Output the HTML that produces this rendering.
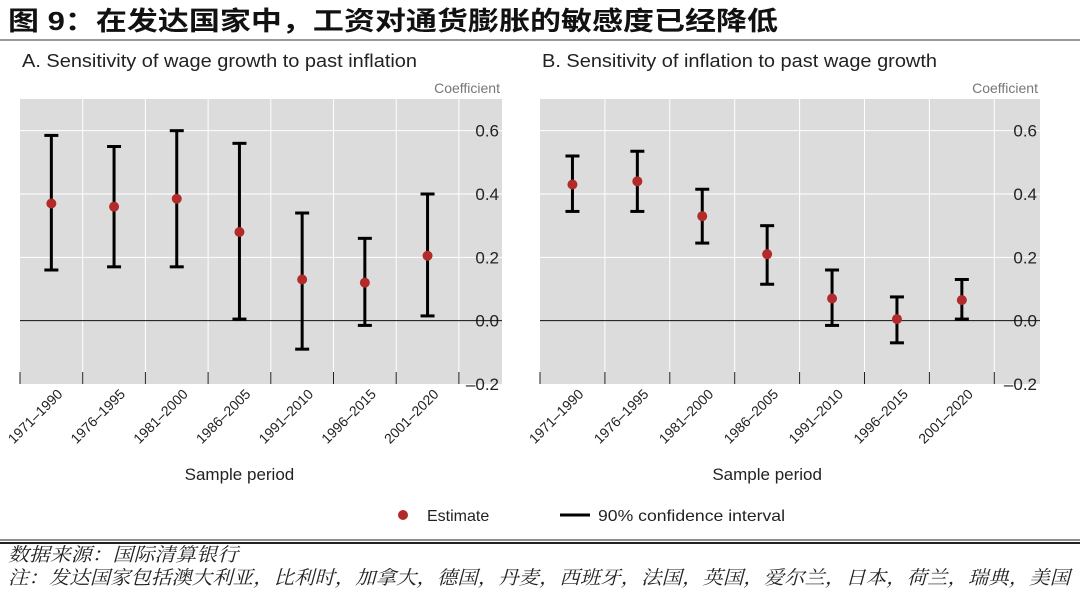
<!DOCTYPE html>
<html><head><meta charset="utf-8"><style>
body{margin:0;width:1080px;height:589px;background:#fff;overflow:hidden;font-family:"Liberation Sans","Noto Sans CJK SC",sans-serif;}
</style></head><body>
<svg width="1080" height="589" xmlns="http://www.w3.org/2000/svg">
<text x="8" y="30" font-size="26" font-weight="bold" fill="#111" textLength="770" lengthAdjust="spacingAndGlyphs" font-family="Liberation Sans, Noto Sans CJK SC, sans-serif">图 9：在发达国家中，工资对通货膨胀的敏感度已经降低</text>
<line x1="0" y1="40" x2="1080" y2="40" stroke="#333" stroke-width="1"/>
<g id="panels"></g>
<g>
<circle cx="403" cy="515" r="5" fill="#b22a2a"/>
<text x="427" y="521" font-size="16" fill="#222">Estimate</text>
<line x1="560" y1="515" x2="590" y2="515" stroke="#000" stroke-width="3"/>
<text x="598" y="521" font-size="16" fill="#222" textLength="187" lengthAdjust="spacingAndGlyphs">90% confidence interval</text>
</g>
<line x1="0" y1="540" x2="1080" y2="540" stroke="#222" stroke-width="1"/>
<line x1="0" y1="543" x2="1080" y2="543" stroke="#222" stroke-width="2"/>
<text x="8" y="561" font-size="19" font-style="italic" fill="#222" textLength="230" lengthAdjust="spacingAndGlyphs" font-family="Liberation Serif, Noto Serif CJK SC, serif">数据来源：国际清算银行</text>
<text x="8" y="584" font-size="19" font-style="italic" fill="#222" textLength="1062" lengthAdjust="spacingAndGlyphs" font-family="Liberation Serif, Noto Serif CJK SC, serif">注：发达国家包括澳大利亚，比利时，加拿大，德国，丹麦，西班牙，法国，英国，爱尔兰，日本，荷兰，瑞典，美国</text>
</svg>
<script>
const categories=["1971–1990","1976–1995","1981–2000","1986–2005","1991–2010","1996–2015","2001–2020"];
const estA=[0.37,0.36,0.385,0.28,0.13,0.12,0.205];
const loA=[0.16,0.17,0.17,0.005,-0.09,-0.015,0.015];
const hiA=[0.585,0.55,0.6,0.56,0.34,0.26,0.4];
const estB=[0.43,0.44,0.33,0.21,0.07,0.005,0.065];
const loB=[0.345,0.345,0.245,0.115,-0.015,-0.07,0.005];
const hiB=[0.52,0.535,0.415,0.30,0.16,0.075,0.13];
const yTicks=[0.6,0.4,0.2,0.0,-0.2];
const yTickLabels=["0.6","0.4","0.2","0.0","–0.2"];
const NS="http://www.w3.org/2000/svg";
const root=document.getElementById('panels');
function mk(tag,attrs,parent){const e=document.createElementNS(NS,tag);for(const k in attrs)e.setAttribute(k,attrs[k]);parent.appendChild(e);return e;}
function panel(id,title,x0,x1,step,est,lo,hi){
  const g=mk('g',{},root);
  
  
  const top=99,bot=384,ymin=-0.2,ymax=0.7;
  const y=v=>bot-(v-ymin)/(ymax-ymin)*(bot-top);
  const xc=i=>x0+step*(i+0.5);
  const t=mk('text',{x:x0+2,y:67,'font-size':18,fill:'#222',textLength:395,lengthAdjust:'spacingAndGlyphs'},g);t.textContent=title;
  
  
  const bg=mk('rect',{x:x0,y:top,width:x1-x0,height:bot-top,fill:'#dcdcdc'},g);
  
  
  const c=mk('text',{x:x1-2,y:93,'font-size':14,fill:'#777','text-anchor':'end'},g);c.textContent='Coefficient';
  
  
  yTicks.forEach((v,i)=>{
    if(v!==0&&v>ymin){const l=mk('line',{x1:x0,x2:x1,y1:y(v),y2:y(v),stroke:'#fff','stroke-width':1},g);
    
    }
    const tx=mk('text',{x:x1-3,y:y(v)+6,'font-size':17,fill:'#222','text-anchor':'end'},g);tx.textContent=yTickLabels[i];
    
    
  });
  for(let i=0;i<=categories.length;i++){
    const gx=x0+step*i;
    if(i>0){const l=mk('line',{x1:gx,x2:gx,y1:top,y2:bot,stroke:'#fff','stroke-width':1},g);
    
    }
    const tk=mk('line',{x1:gx,x2:gx,y1:bot-12,y2:bot,stroke:'#222','stroke-width':1},g);
    
    
  }
  const z=mk('line',{x1:x0,x2:x1,y1:y(0),y2:y(0),stroke:'#111','stroke-width':1},g);
  
  
  categories.forEach((cat,i)=>{
    const cx=xc(i);
    const eb=mk('g',{stroke:'#000','stroke-width':3},g);
    
    
    mk('line',{x1:cx,x2:cx,y1:y(hi[i]),y2:y(lo[i])},eb);
    mk('line',{x1:cx-7,x2:cx+7,y1:y(hi[i]),y2:y(hi[i])},eb);
    mk('line',{x1:cx-7,x2:cx+7,y1:y(lo[i]),y2:y(lo[i])},eb);
    const p=mk('circle',{cx:cx,cy:y(est[i]),r:5,fill:'#b22a2a'},g);
    
    
    const lb=mk('text',{x:cx+12,y:395,'font-size':14,fill:'#222','text-anchor':'end',transform:`rotate(-45 ${cx+12} 395)`},g);lb.textContent=cat;
    
    
  });
  const xt=mk('text',{x:x0+(step*categories.length)/2,y:480,'font-size':17,fill:'#222','text-anchor':'middle'},g);xt.textContent='Sample period';
  
  
}
panel('panel-a','A. Sensitivity of wage growth to past inflation',20,502,62.7,estA,loA,hiA);
panel('panel-b','B. Sensitivity of inflation to past wage growth',540,1040,64.9,estB,loB,hiB);
</script>
</body></html>
